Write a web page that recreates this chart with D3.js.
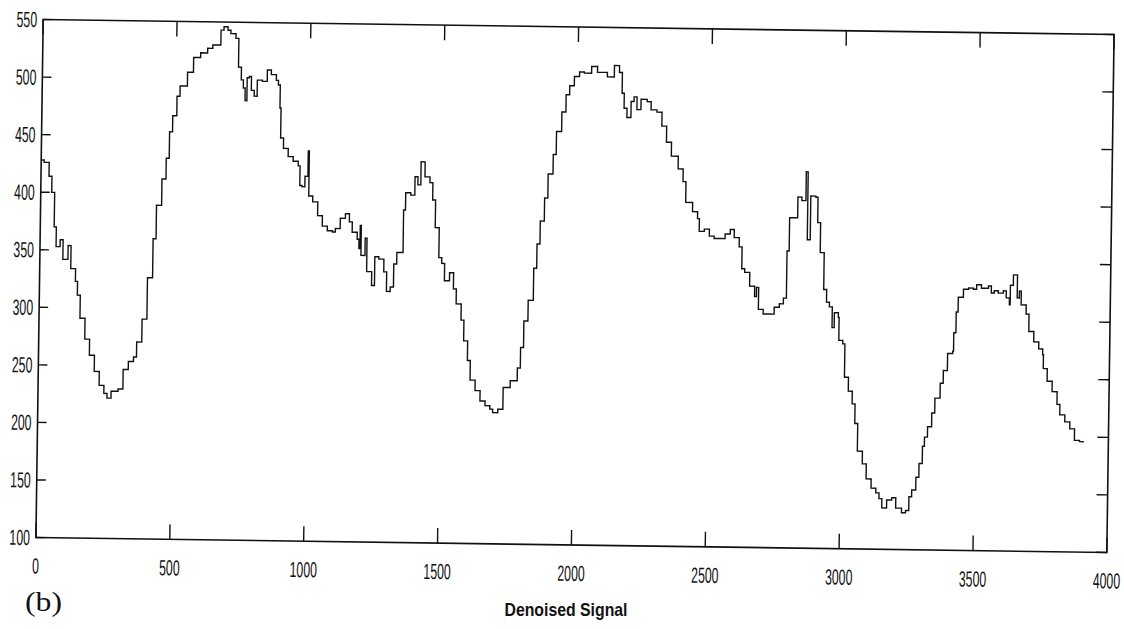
<!DOCTYPE html>
<html>
<head>
<meta charset="utf-8">
<script src="https://cdn.jsdelivr.net/npm/d3@7"></script>
<style>
  body { margin: 0; background: #fff; }
  svg { display: block; }
  .tick-label { font-family: "Liberation Sans", Arial, sans-serif; font-size: 22px; fill: #111; }
</style>
</head>
<body>
<script>
// signal samples
var sampleX = [0, 11, 30, 41, 52, 60, 75, 86, 105, 116, 134, 142, 153, 172, 190, 209, 228, 246, 258, 273,
    299, 317, 336, 355, 366, 385, 403, 422, 433, 452, 467, 478, 489, 504, 515, 542, 564, 590, 616, 635,
    654, 665, 676, 691, 702, 721, 732, 743, 751, 758, 765, 773, 781, 792, 803, 822, 840, 855, 874, 882,
    889, 893, 904, 922, 941, 960, 967, 975, 986, 997, 1001, 1016, 1035, 1053, 1072, 1091, 1102, 1120, 1139, 1154,
    1165, 1184, 1191, 1195, 1199, 1214, 1221, 1240, 1247, 1251, 1266, 1285, 1296, 1310, 1322, 1333, 1350, 1356, 1363, 1382,
    1397, 1408, 1419, 1434, 1453, 1464, 1475, 1490, 1501, 1512, 1531, 1546, 1557, 1576, 1587, 1602, 1613, 1632, 1651, 1670,
    1688, 1699, 1718, 1737, 1763, 1789, 1800, 1811, 1826, 1845, 1856, 1867, 1882, 1894, 1912, 1923, 1942, 1957, 1970, 1987,
    2006, 2024, 2051, 2073, 2110, 2136, 2155, 2166, 2174, 2185, 2200, 2211, 2222, 2237, 2260, 2275, 2297, 2316, 2334, 2353,
    2379, 2398, 2409, 2435, 2454, 2461, 2480, 2499, 2517, 2540, 2558, 2577, 2592, 2611, 2622, 2633, 2652, 2671, 2678, 2686,
    2704, 2727, 2745, 2764, 2779, 2790, 2798, 2816, 2828, 2843, 2858, 2865, 2876, 2895, 2903, 2914, 2929, 2940, 2951, 2962,
    2970, 2985, 2988, 3003, 3011, 3026, 3041, 3052, 3063, 3082, 3097, 3116, 3134, 3146, 3157, 3175, 3194, 3209, 3231, 3246,
    3258, 3268, 3283, 3294, 3306, 3313, 3324, 3339, 3350, 3369, 3380, 3395, 3414, 3417, 3425, 3432, 3451, 3470, 3488, 3500,
    3518, 3544, 3555, 3566, 3581, 3600, 3611, 3623, 3626, 3637, 3645, 3652, 3660, 3667, 3686, 3697, 3716, 3735, 3750, 3753,
    3768, 3787, 3806, 3817, 3836, 3855, 3873, 3892, 3905];
var sampleY = [428, 426, 414, 400, 370, 353, 359, 342, 354, 334, 323, 311, 291, 273, 259, 245, 233, 226, 222, 228,
    230, 247, 254, 258, 271, 291, 327, 361, 390, 413, 431, 454, 468, 485, 494, 506, 519, 523, 527, 530,
    530, 543, 546, 543, 540, 536, 511, 500, 493, 482, 502, 503, 491, 486, 500, 499, 509, 505, 500, 496,
    476, 450, 441, 434, 430, 426, 409, 408, 417, 439, 400, 395, 383, 374, 370, 369, 372, 381, 385, 378,
    369, 363, 355, 375, 349, 364, 335, 323, 323, 348, 346, 335, 318, 322, 342, 352, 352, 389, 404, 402,
    418, 411, 431, 418, 413, 398, 374, 348, 343, 328, 335, 321, 308, 294, 276, 259, 242, 233, 224, 220,
    217, 214, 217, 236, 242, 253, 271, 294, 312, 340, 361, 381, 401, 422, 439, 459, 476, 491, 499, 507,
    511, 510, 516, 511, 507, 517, 511, 493, 480, 472, 486, 490, 479, 488, 486, 479, 477, 465, 451, 439,
    428, 417, 399, 391, 385, 374, 376, 370, 368, 368, 372, 376, 369, 361, 342, 339, 327, 318, 326, 307,
    303, 303, 309, 312, 317, 358, 387, 387, 405, 402, 427, 368, 406, 405, 383, 357, 325, 314, 310, 292,
    305, 301, 281, 278, 249, 237, 226, 209, 185, 174, 161, 153, 149, 144, 136, 143, 145, 136, 132, 134,
    146, 152, 163, 175, 190, 198, 207, 219, 232, 245, 256, 271, 273, 289, 307, 320, 327, 328, 327, 331,
    328, 330, 324, 326, 324, 326, 320, 314, 331, 340, 340, 320, 326, 314, 306, 291, 282, 276, 271, 259,
    248, 239, 228, 219, 213, 207, 197, 196, 195];

var xTicks = [0, 500, 1000, 1500, 2000, 2500, 3000, 3500, 4000];
var yTicks = [100, 150, 200, 250, 300, 350, 400, 450, 500, 550];

var W = 1124, H = 629;
var plotLeft = 39.5, plotTop = 27, width = 1071, height = 518;

var svg = d3.select("body").append("svg")
    .attr("width", W)
    .attr("height", H);

// the scan is tilted a little, so the plot frame is too
var g = svg.append("g")
    .attr("transform", "rotate(0.8,575,286) translate(" + plotLeft + "," + plotTop + ")");

var x = d3.scaleLinear().domain([0, 4000]).range([0, width]);
var y = d3.scaleLinear().domain([100, 550]).range([height, 0]);

var data = sampleX.map(function(d, i) { return [d, sampleY[i]]; });

var line = d3.line()
    .x(function(d) { return x(d[0]); })
    .y(function(d) { return y(d[1]); })
    .curve(d3.curveStepAfter);

g.append("path")
    .datum(data)
    .attr("d", line)
    .attr("fill", "none")
    .attr("stroke", "#111")
    .attr("stroke-width", 1.4);

// frame
g.append("rect")
    .attr("x", 0).attr("y", 0)
    .attr("width", width).attr("height", height)
    .attr("fill", "none")
    .attr("stroke", "#111")
    .attr("stroke-width", 1.6);

// inward ticks
xTicks.forEach(function(t) {
    g.append("line")
        .attr("x1", x(t)).attr("x2", x(t))
        .attr("y1", height).attr("y2", height - 15)
        .attr("stroke", "#111").attr("stroke-width", 1.4);
    g.append("line")
        .attr("x1", x(t)).attr("x2", x(t))
        .attr("y1", 0).attr("y2", 15)
        .attr("stroke", "#111").attr("stroke-width", 1.4);
    g.append("text")
        .attr("class", "tick-label")
        .attr("text-anchor", "middle")
        .attr("transform", "translate(" + x(t) + "," + (height + 36) + ") scale(0.56,1)")
        .text(t);
});

yTicks.forEach(function(t) {
    g.append("line")
        .attr("x1", 0).attr("x2", 9)
        .attr("y1", y(t)).attr("y2", y(t))
        .attr("stroke", "#111").attr("stroke-width", 1.4);
    g.append("line")
        .attr("x1", width).attr("x2", width - 11)
        .attr("y1", y(t)).attr("y2", y(t))
        .attr("stroke", "#111").attr("stroke-width", 1.4);
    g.append("text")
        .attr("class", "tick-label")
        .attr("text-anchor", "end")
        .attr("dy", "0.35em")
        .attr("transform", "translate(-6," + y(t) + ") scale(0.56,1)")
        .text(t);
});

svg.append("text")
    .attr("x", 566).attr("y", 616)
    .attr("text-anchor", "middle")
    .attr("textLength", 123)
    .attr("lengthAdjust", "spacingAndGlyphs")
    .style("font-family", "'Liberation Sans', Arial, sans-serif")
    .style("font-weight", "bold")
    .style("font-size", "19px")
    .style("fill", "#111")
    .text("Denoised Signal");

svg.append("text")
    .attr("x", 25).attr("y", 611)
    .attr("textLength", 37)
    .attr("lengthAdjust", "spacingAndGlyphs")
    .style("font-family", "'Liberation Serif', 'Times New Roman', serif")
    .style("font-size", "27px")
    .style("fill", "#111")
    .text("(b)");
</script>
</body>
</html>
